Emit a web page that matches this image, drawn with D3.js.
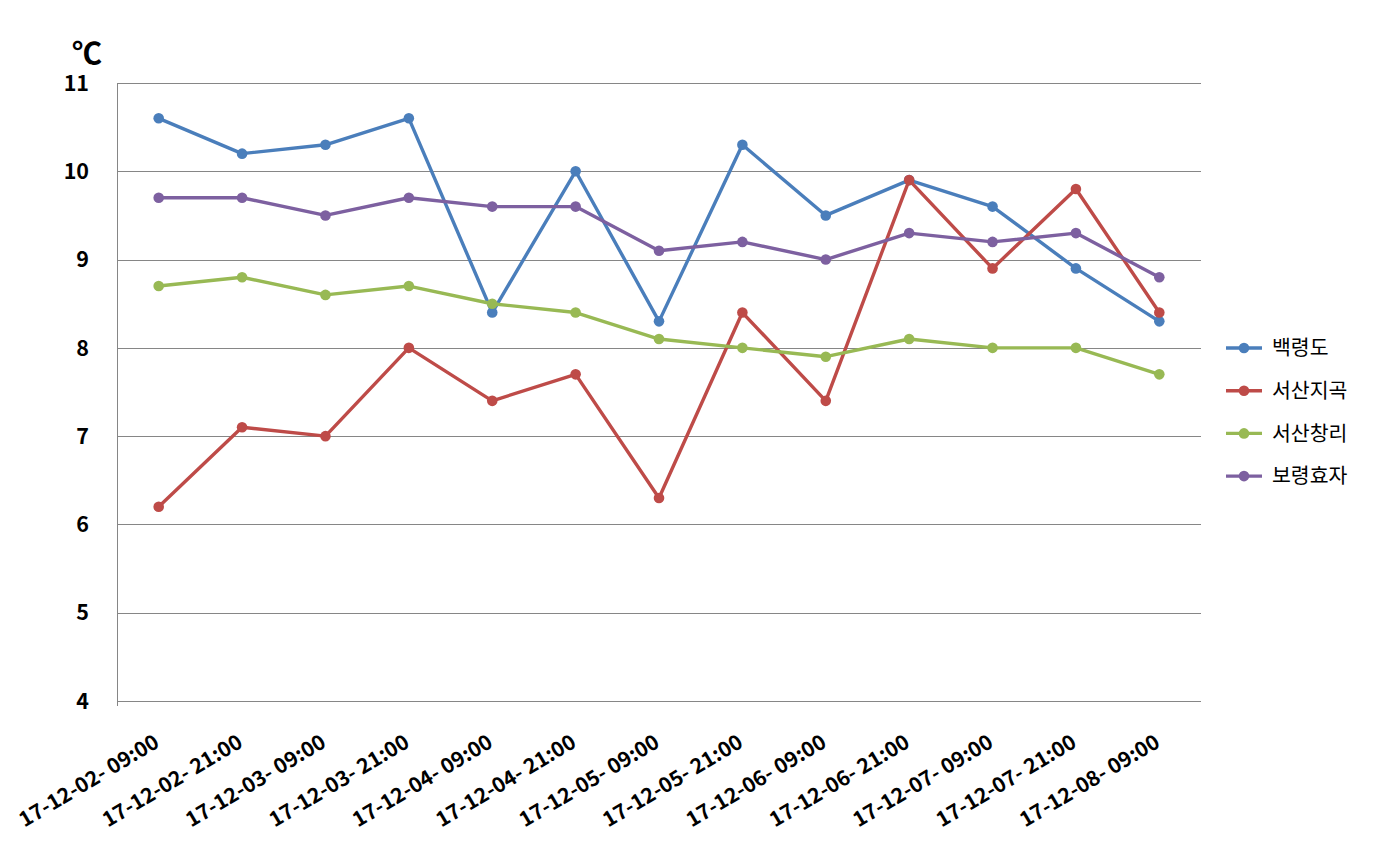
<!DOCTYPE html>
<html><head><meta charset="utf-8">
<script src="https://cdn.jsdelivr.net/npm/d3@7"></script>
<style>body{margin:0;background:#fff}svg{display:block}</style>
</head><body>
<script>
const categories = ["17-12-02- 09:00","17-12-02- 21:00","17-12-03- 09:00","17-12-03- 21:00","17-12-04- 09:00","17-12-04- 21:00","17-12-05- 09:00","17-12-05- 21:00","17-12-06- 09:00","17-12-06- 21:00","17-12-07- 09:00","17-12-07- 21:00","17-12-08- 09:00"];
const seriesNames = ["백령도","서산지곡","서산창리","보령효자"];
const baengnyeongdo = [10.6,10.2,10.3,10.6,8.4,10.0,8.3,10.3,9.5,9.9,9.6,8.9,8.3];
const seosanJigok = [6.2,7.1,7.0,8.0,7.4,7.7,6.3,8.4,7.4,9.9,8.9,9.8,8.4];
const seosanChangri = [8.7,8.8,8.6,8.7,8.5,8.4,8.1,8.0,7.9,8.1,8.0,8.0,7.7];
const boryeongHyoja = [9.7,9.7,9.5,9.7,9.6,9.6,9.1,9.2,9.0,9.3,9.2,9.3,8.8];
const yTicks = [4,5,6,7,8,9,10,11];
const unitLabel = "℃";
const colors = ["#4A7EBB","#BE4B48","#98B954","#7D60A0"];
const seriesValues = [baengnyeongdo, seosanJigok, seosanChangri, boryeongHyoja];

const W = 1374, H = 863;
const svg = d3.select("body").append("svg").attr("width", W).attr("height", H);
const font = "'Noto Sans CJK KR','Malgun Gothic',sans-serif";

const x = d3.scaleBand().domain(categories).range([117, 1201]);
const y = d3.scaleLinear().domain([4, 11]).range([701, 83]);

// gridlines
svg.append("g").selectAll("line").data(yTicks.filter(t => t > 4)).join("line")
  .attr("x1", 117).attr("x2", 1201)
  .attr("y1", d => Math.round(y(d)) + 0.5).attr("y2", d => Math.round(y(d)) + 0.5)
  .attr("stroke", "#868686").attr("stroke-width", 1);

// axes lines
svg.append("line").attr("x1", 117.5).attr("x2", 117.5).attr("y1", 83).attr("y2", 706)
  .attr("stroke", "#868686");
svg.append("line").attr("x1", 117).attr("x2", 1201).attr("y1", 701.5).attr("y2", 701.5)
  .attr("stroke", "#868686");

// y labels
svg.append("g").selectAll("text").data(yTicks).join("text")
  .attr("x", 89).attr("y", d => y(d))
  .attr("dy", "0.36em")
  .attr("text-anchor", "end")
  .attr("font-family", font).attr("font-weight", "bold").attr("font-size", 21.5)
  .attr("fill", "#000").text(d => d);

svg.append("text").attr("x", 72).attr("y", 64)
  .attr("font-family", font).attr("font-weight", "bold").attr("font-size", 30)
  .attr("fill", "#000").text(unitLabel);

// x labels
svg.append("g").selectAll("text").data(categories).join("text")
  .attr("transform", d => `translate(${x(d) + x.bandwidth()/2 + 2},${746}) rotate(-31)`)
  .attr("text-anchor", "end")
  .attr("font-family", font).attr("font-weight", "bold").attr("font-size", 21)
  .attr("fill", "#000").text(d => d);

// series
const cx = d => x(d) + x.bandwidth() / 2;
const line = d3.line().x((v, i) => cx(categories[i])).y(v => y(v));
seriesValues.forEach((vals, s) => {
  const g = svg.append("g");
  g.append("path").datum(vals).attr("d", line)
    .attr("fill", "none").attr("stroke", colors[s]).attr("stroke-width", 3.4)
    .attr("stroke-linejoin", "round");
  g.selectAll("circle").data(vals).join("circle")
    .attr("cx", (v, i) => cx(categories[i])).attr("cy", v => y(v)).attr("r", 5.3)
    .attr("fill", colors[s]);
});

// legend
const lg = svg.append("g");
seriesNames.forEach((n, i) => {
  const ly = 348 + i * 42.7;
  lg.append("line").attr("x1", 1226).attr("x2", 1262).attr("y1", ly).attr("y2", ly)
    .attr("stroke", colors[i]).attr("stroke-width", 3.4);
  lg.append("circle").attr("cx", 1244).attr("cy", ly).attr("r", 5.3).attr("fill", colors[i]);
  lg.append("text").attr("x", 1272).attr("y", ly).attr("dy", "0.36em")
    .attr("font-family", font).attr("font-size", 20.5).attr("fill", "#000").text(n);
});
</script>
</body></html>
